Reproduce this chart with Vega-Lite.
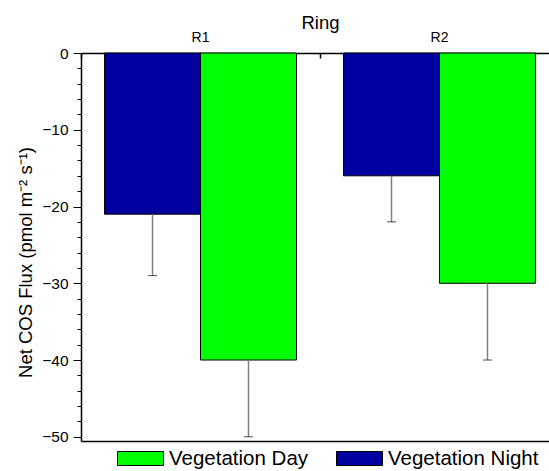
{
  "$schema": "https://vega.github.io/schema/vega-lite/v6.json",
  "width": 468,
  "height": 388,
  "autosize": {"type": "none"},
  "padding": {"left": 81, "top": 53, "right": 0, "bottom": 30},
  "background": "white",
  "config": {
    "view": {"stroke": null},
    "font": "Liberation Sans",
    "axis": {"labelColor": "black", "titleColor": "black", "tickColor": "black", "domainColor": "black", "domainWidth": 1.5, "grid": false}
  },
  "data": {
    "values": [
      {"ring": "R1", "veg": "Vegetation Night", "value": -21, "err": -29},
      {"ring": "R1", "veg": "Vegetation Day", "value": -40, "err": -50},
      {"ring": "R2", "veg": "Vegetation Night", "value": -16, "err": -22},
      {"ring": "R2", "veg": "Vegetation Day", "value": -30, "err": -40}
    ]
  },
  "layer": [
    {
      "mark": {"type": "bar", "stroke": "black", "strokeWidth": 1},
      "encoding": {
        "x": {
          "field": "ring", "type": "nominal",
          "scale": {"range": [0, 478], "paddingInner": 0, "paddingOuter": 0},
          "axis": {"orient": "top", "title": "Ring", "titleFontSize": 18.5, "titleFontWeight": "normal", "titlePadding": -2, "labelFontSize": 14, "labelAngle": 0, "bandPosition": 0, "tickSize": -5, "tickWidth": 1.5, "labelPadding": 14, "domain": true}
        },
        "xOffset": {"field": "veg", "type": "nominal", "sort": ["Vegetation Night", "Vegetation Day"], "scale": {"paddingOuter": 0.245, "paddingInner": 0}},
        "y": {
          "field": "value", "type": "quantitative",
          "scale": {"domain": [-50.55, 0], "nice": false, "zero": false},
          "axis": {"orient": "left", "values": [0, -2, -4, -6, -8, -10, -12, -14, -16, -18, -20, -22, -24, -26, -28, -30, -32, -34, -36, -38, -40, -42, -44, -46, -48, -50], "labelExpr": "datum.value % 10 === 0 ? datum.label : ''", "tickSize": {"condition": {"test": "datum.value % 10 === 0", "value": 8}, "value": 4}, "labelFontSize": 15.5, "labelPadding": 5, "labelOverlap": false, "title": "Net COS Flux (pmol m⁻² s⁻¹)", "titleFontSize": 18.5, "titleFontWeight": "normal", "titlePadding": 6, "titleY": 209}
        },
        "y2": {"datum": 0},
        "color": {
          "field": "veg", "type": "nominal",
          "scale": {"domain": ["Vegetation Day", "Vegetation Night"], "range": ["#00FF00", "#0000A0"]},
          "legend": {"orient": "none", "legendX": 36, "legendY": 382, "direction": "horizontal", "columns": 2, "title": null, "symbolType": "M-1,-0.3043H1V0.3043H-1Z", "symbolSize": 2116, "symbolStrokeColor": "black", "symbolStrokeWidth": 1, "symbolOpacity": 1, "labelFontSize": 20.5, "labelOffset": 5, "columnPadding": 25, "padding": 0, "labelColor": "black"}
        }
      }
    },
    {
      "mark": {"type": "rule", "color": "#808080", "strokeWidth": 1.5},
      "encoding": {
        "x": {
          "field": "ring", "type": "nominal",
          "scale": {"range": [0, 478], "paddingInner": 0, "paddingOuter": 0},
          "axis": {"orient": "bottom", "title": null, "labels": false, "ticks": false, "domain": true}
        },
        "xOffset": {"field": "veg", "type": "nominal", "sort": ["Vegetation Night", "Vegetation Day"], "scale": {"paddingOuter": 0.245, "paddingInner": 0}},
        "y": {"field": "value", "type": "quantitative",
          "axis": {"orient": "left", "values": [0, -2, -4, -6, -8, -10, -12, -14, -16, -18, -20, -22, -24, -26, -28, -30, -32, -34, -36, -38, -40, -42, -44, -46, -48, -50], "labelExpr": "datum.value % 10 === 0 ? datum.label : ''", "tickSize": {"condition": {"test": "datum.value % 10 === 0", "value": 8}, "value": 4}, "labelFontSize": 15.5, "labelPadding": 5, "labelOverlap": false, "title": "Net COS Flux (pmol m⁻² s⁻¹)", "titleFontSize": 18.5, "titleFontWeight": "normal", "titlePadding": 6, "titleY": 209}},
        "y2": {"field": "err"}
      }
    },
    {
      "mark": {"type": "tick", "color": "black", "size": 9, "thickness": 1},
      "encoding": {
        "x": {"field": "ring", "type": "nominal", "axis": null},
        "xOffset": {"field": "veg", "type": "nominal", "sort": ["Vegetation Night", "Vegetation Day"]},
        "y": {"field": "err", "type": "quantitative",
          "axis": {"orient": "left", "values": [0, -2, -4, -6, -8, -10, -12, -14, -16, -18, -20, -22, -24, -26, -28, -30, -32, -34, -36, -38, -40, -42, -44, -46, -48, -50], "labelExpr": "datum.value % 10 === 0 ? datum.label : ''", "tickSize": {"condition": {"test": "datum.value % 10 === 0", "value": 8}, "value": 4}, "labelFontSize": 15.5, "labelPadding": 5, "labelOverlap": false, "title": "Net COS Flux (pmol m⁻² s⁻¹)", "titleFontSize": 18.5, "titleFontWeight": "normal", "titlePadding": 6, "titleY": 209}}
      }
    }
  ],
  "resolve": {"axis": {"x": "independent"}}
}
